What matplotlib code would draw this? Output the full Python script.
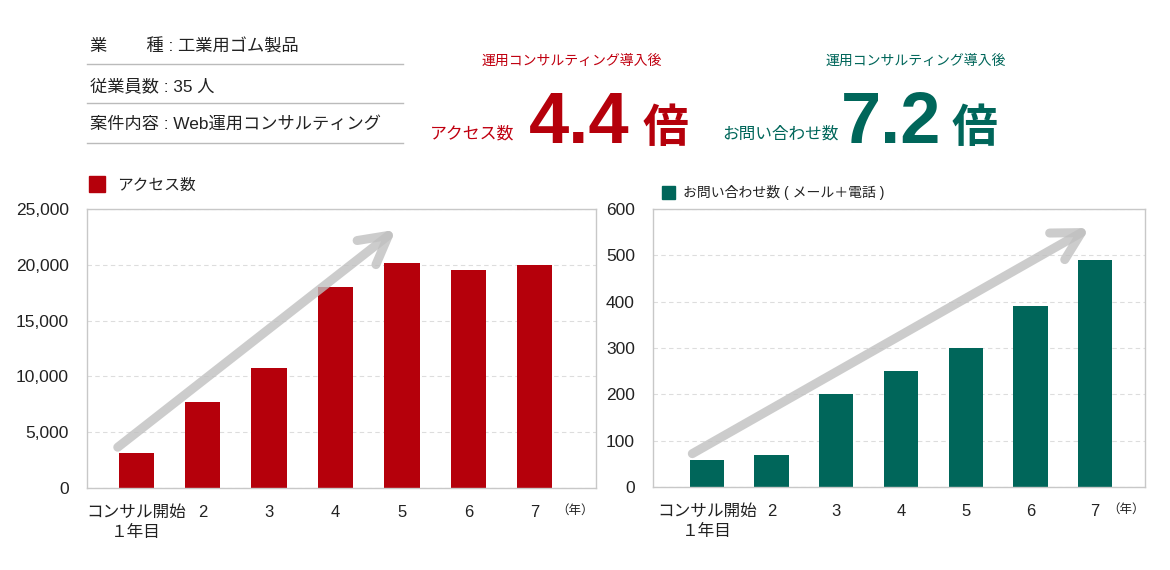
import matplotlib
matplotlib.use("Agg")
import matplotlib.pyplot as plt
from matplotlib.ticker import FuncFormatter

plt.rcParams['font.family'] = ['Liberation Sans', 'Noto Sans CJK JP', 'DejaVu Sans']

# ---- data ----
categories = ["コンサル開始\n１年目", "2", "3", "4", "5", "6", "7"]
access = [3100, 7750, 10750, 18050, 20200, 19500, 20000]
inquiries = [58, 70, 200, 250, 300, 390, 490]
access_ticks = [0, 5000, 10000, 15000, 20000, 25000]
inq_ticks = [0, 100, 200, 300, 400, 500, 600]
info_lines = ["業　　 種 : 工業用ゴム製品", "従業員数 : 35 人", "案件内容 : Web運用コンサルティング"]

RED = '#b5000b'
GREEN = '#00665a'
TXT = '#222222'
W, H = 1170, 570

fig = plt.figure(figsize=(11.7, 5.7), dpi=100)
fig.patch.set_facecolor('white')


def P(x, y):
    return x / W, 1 - y / H


# ---- info block ----
for i, (line, ty, ly) in enumerate(zip(info_lines, [46, 86, 124], [64, 103, 143])):
    fig.text(*P(90, ty), line, fontsize=12.4, color=TXT, va='center', ha='left')
    fig.add_artist(plt.Line2D([87 / W, 403 / W], [1 - ly / H, 1 - ly / H],
                              color='#bbbbbb', lw=1))

# ---- headline numbers ----
fig.text(*P(572, 61), "運用コンサルティング導入後", fontsize=10, color='#c00010', ha='center', va='center')
fig.text(*P(472, 134), "アクセス数", fontsize=12.2, color='#c00010', ha='center', va='center')
fig.text(*P(529, 143), "4.4", fontsize=52, color=RED, ha='left', va='baseline',
         family=['Liberation Sans'], weight='bold')
fig.text(*P(643, 142), "倍", fontsize=33, color=RED, ha='left', va='baseline',
         family=['Noto Sans CJK JP'], weight='bold')

fig.text(*P(916, 61), "運用コンサルティング導入後", fontsize=10, color=GREEN, ha='center', va='center')
fig.text(*P(780, 134), "お問い合わせ数", fontsize=12, color=GREEN, ha='center', va='center')
fig.text(*P(841, 143), "7.2", fontsize=52, color=GREEN, ha='left', va='baseline',
         family=['Liberation Sans'], weight='bold')
fig.text(*P(952, 142), "倍", fontsize=33, color=GREEN, ha='left', va='baseline',
         family=['Noto Sans CJK JP'], weight='bold')


def style_axes(ax, ticks, fmt):
    for s in ax.spines.values():
        s.set_color('#c8c8c8')
        s.set_linewidth(1)
    ax.set_yticks(ticks)
    ax.set_ylim(ticks[0], ticks[-1])
    ax.yaxis.set_major_formatter(FuncFormatter(fmt))
    ax.tick_params(axis='both', length=0, colors=TXT)
    ax.tick_params(axis='y', labelsize=12.5, pad=13)
    ax.tick_params(axis='x', labelsize=12, pad=12)
    ax.yaxis.grid(True, color='#dddddd', linestyle=(0, (4, 3)), lw=0.8)
    ax.set_axisbelow(True)
    ax.set_xticks(range(len(categories)))
    ax.set_xticklabels(categories, linespacing=1.4)
    for lbl in ax.get_xticklabels():
        lbl.set_verticalalignment('top')


# ---- left chart ----
ax1 = fig.add_axes([87 / W, 1 - 488 / H, 509 / W, 279 / H])
x = list(range(len(categories)))
ax1.bar(x, access, width=0.53, color=RED, zorder=2)
ax1.set_xlim(-0.74, 6.92)
style_axes(ax1, access_ticks, lambda v, p: f"{int(v):,}")
ax1.annotate('', xy=(3.94, 23300), xytext=(-0.31, 3500),
             arrowprops=dict(arrowstyle='->,head_length=2.0,head_width=1.1',
                             lw=6.5, color='#c0c0c0', alpha=0.8),
             annotation_clip=False, zorder=3)
ax1.text(0.995, -0.082, "（年）", transform=ax1.transAxes, fontsize=9, color=TXT,
         ha='right', va='center')

# legend left
fig.add_artist(plt.Rectangle(P(89, 192), 16 / W, 16 / H, color=RED, transform=fig.transFigure))
fig.text(*P(117, 185), "アクセス数", fontsize=11.3, color=TXT, va='center', ha='left')

# ---- right chart ----
ax2 = fig.add_axes([653 / W, 1 - 487 / H, 492 / W, 278 / H])
ax2.bar(x, inquiries, width=0.53, color=GREEN, zorder=2)
ax2.set_xlim(-0.83, 6.77)
style_axes(ax2, inq_ticks, lambda v, p: f"{int(v)}")
ax2.annotate('', xy=(5.95, 562), xytext=(-0.26, 69),
             arrowprops=dict(arrowstyle='->,head_length=2.0,head_width=1.1',
                             lw=6.5, color='#c0c0c0', alpha=0.8),
             annotation_clip=False, zorder=3)
ax2.text(1.0, -0.082, "（年）", transform=ax2.transAxes, fontsize=9, color=TXT,
         ha='right', va='center')

# legend right
fig.add_artist(plt.Rectangle(P(662, 199), 13 / W, 13 / H, color=GREEN, transform=fig.transFigure))
fig.text(*P(683, 193), "お問い合わせ数 ( メール＋電話 )", fontsize=10, color=TXT, va='center', ha='left')

fig.savefig("out.png", dpi=100, facecolor='white')
